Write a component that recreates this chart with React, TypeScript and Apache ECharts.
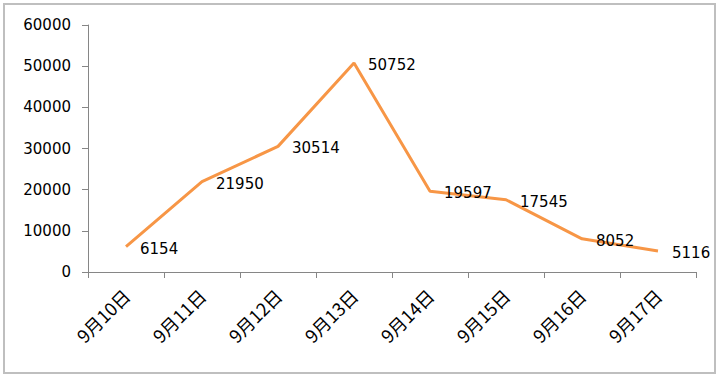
import React, { useEffect, useRef } from "react";
import * as echarts from "echarts";

const categories = ["9月10日", "9月11日", "9月12日", "9月13日", "9月14日", "9月15日", "9月16日", "9月17日"];
const values = [6154, 21950, 30514, 50752, 19597, 17545, 8052, 5116];
const yTicks = { min: 0, max: 60000, interval: 10000 };

export default function App() {
  const ref = useRef<HTMLDivElement>(null);
  useEffect(() => {
    const chart = echarts.init(ref.current!, null, { renderer: "svg" });
    const font = "DejaVu Sans";
    chart.setOption({
      animation: false,
      textStyle: { fontFamily: font },
      graphic: [
        {
          type: "rect",
          shape: { x: 4, y: 4, width: 711, height: 369 },
          style: { fill: "none", stroke: "#bfbfbf", lineWidth: 2 },
        },
      ],
      grid: { left: 88, right: 24, top: 25, bottom: 106, containLabel: false },
      xAxis: {
        type: "category",
        data: categories,
        boundaryGap: true,
        axisLine: { lineStyle: { color: "#868686", width: 1 } },
        axisTick: { show: true, length: 6, lineStyle: { color: "#868686" } },
        axisLabel: { rotate: 45, color: "#000", fontSize: 18, fontFamily: "'Noto Sans CJK SC', DejaVu Sans", margin: 20 },
      },
      yAxis: {
        type: "value",
        min: yTicks.min,
        max: yTicks.max,
        interval: yTicks.interval,
        splitLine: { show: false },
        axisLine: { show: true, lineStyle: { color: "#868686", width: 1 } },
        axisTick: { show: true, length: 6, lineStyle: { color: "#868686" } },
        axisLabel: { color: "#000", fontSize: 15, fontFamily: font, margin: 17, formatter: (v: number) => String(v) },
      },
      series: [
        {
          type: "line",
          data: values,
          symbol: "circle",
          symbolSize: 0,
          showSymbol: true,
          lineStyle: { color: "#f79646", width: 3 },
          itemStyle: { color: "#f79646" },
          label: {
            show: true,
            position: "right",
            distance: 14,
            offset: [0, 2],
            color: "#000",
            fontSize: 15,
            fontFamily: font,
          },
        },
      ],
    });
    return () => chart.dispose();
  }, []);
  return (
    <div
      ref={ref}
      style={{ position: "fixed", left: 0, top: 0, width: 720, height: 378, background: "#fff" }}
    />
  );
}
